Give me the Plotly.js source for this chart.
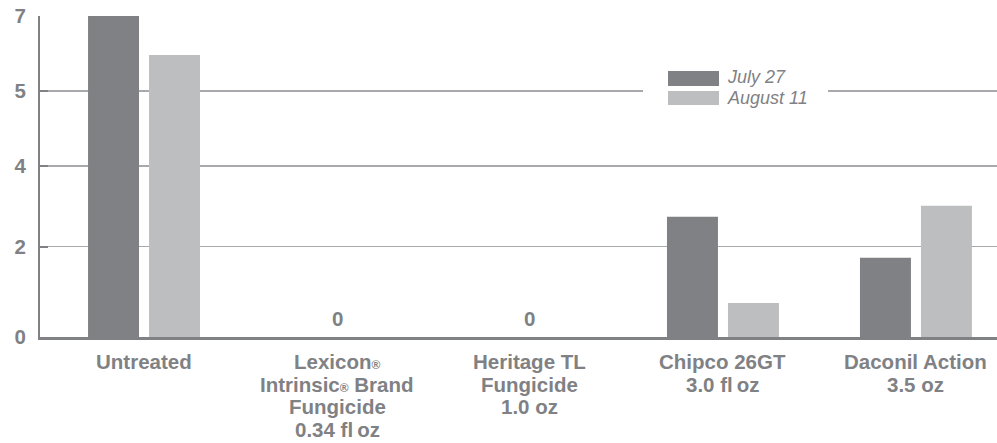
<!DOCTYPE html>
<html>
<head>
<meta charset="utf-8">
<script src="https://cdn.plot.ly/plotly-3.0.1.min.js"></script>
<style>html,body{margin:0;padding:0;background:#fff;}#chart{width:997px;height:443px;}</style>
</head>
<body>
<div id="chart"></div>
<script>
// ---- data ----
const categories = ["Untreated", "Lexicon", "Heritage", "Chipco", "Daconil"];
const categoryLabelLines = [
  ["Untreated"],
  ["Lexicon<span style=\"font-size:12px\">®</span>", "Intrinsic<span style=\"font-size:12px\">®</span> Brand", "Fungicide", "0.34 fl\u2009oz"],
  ["Heritage TL", "Fungicide", "1.0 oz"],
  ["Chipco 26GT", "3.0 fl\u2009oz"],
  ["Daconil Action", "3.5 oz"]
];
const seriesNames = ["July 27", "August 11"];
const july27 = [7.0, 0, 0, 2.62, 1.73];
const august11 = [6.15, 0, 0, 0.74, 2.86];
const yTickVals = [0, 1.97, 3.73, 5.36, 7];
const yTickText = ["0", "2", "4", "5", "7"];

// ---- style ----
const darkGrey = "#808184";
const lightGrey = "#bcbec0";
const gridGrey = "#a7a9ac";
const textGrey = "#808184";
const W = 997, H = 443;
const M = {l: 40, r: 0, t: 16, b: 106};
const px2x = p => (p - M.l) / (W - M.l - M.r);
const px2y = p => (H - M.b - p) / (H - M.t - M.b);
const labelFont = {family: "Liberation Sans, Arial, sans-serif", size: 20.5, color: textGrey, weight: "bold"};

const traces = [
  {type: "bar", x: categories, y: july27, name: seriesNames[0], marker: {color: darkGrey}, showlegend: false, hoverinfo: "none"},
  {type: "bar", x: categories, y: august11, name: seriesNames[1], marker: {color: lightGrey}, showlegend: false, hoverinfo: "none"}
];

const annotations = [];
categoryLabelLines.forEach((lines, i) => {
  lines.forEach((t, j) => {
    annotations.push({
      x: categories[i], y: 0, xref: "x", yref: "y",
      text: t, showarrow: false, xanchor: "center", yanchor: "top",
      yshift: -11 - j * 22.7,
      font: labelFont
    });
  });
});
// zero-value labels
categories.forEach((c, i) => {
  if (july27[i] === 0 && august11[i] === 0) {
    annotations.push({
      x: c, y: 0, xref: "x", yref: "y", text: "0", showarrow: false,
      xanchor: "center", yanchor: "bottom", yshift: 5,
      font: labelFont
    });
  }
});

// legend (custom, wide swatches)
const shapes = [
  {type: "rect", xref: "paper", yref: "paper", x0: px2x(643), x1: px2x(828), y0: px2y(112), y1: px2y(62),
   fillcolor: "#ffffff", line: {width: 0}, layer: "above"},
  {type: "rect", xref: "paper", yref: "paper", x0: px2x(668), x1: px2x(719), y0: px2y(86), y1: px2y(71),
   fillcolor: darkGrey, line: {width: 0}, layer: "above"},
  {type: "rect", xref: "paper", yref: "paper", x0: px2x(668), x1: px2x(719), y0: px2y(105), y1: px2y(91),
   fillcolor: lightGrey, line: {width: 0}, layer: "above"}
];
[[seriesNames[0], 77], [seriesNames[1], 98]].forEach(([t, py]) => {
  annotations.push({
    xref: "paper", yref: "paper", x: px2x(725), y: px2y(py), text: t, showarrow: false,
    xanchor: "left", yanchor: "middle",
    font: {family: "Liberation Sans, Arial, sans-serif", size: 18, color: textGrey, style: "italic"}
  });
});

const layout = {
  width: W, height: H,
  margin: M,
  paper_bgcolor: "#ffffff", plot_bgcolor: "#ffffff",
  barmode: "group", bargap: 0.368, bargroupgap: 0.164,
  showlegend: false,
  xaxis: {
    type: "category", range: [-0.539, 4.42], showticklabels: false, ticks: "",
    showgrid: false, zeroline: false, showline: true, linecolor: darkGrey, linewidth: 3, fixedrange: true
  },
  yaxis: {
    range: [0, 7], tickmode: "array", tickvals: yTickVals, ticktext: yTickText,
    showgrid: true, gridcolor: gridGrey, gridwidth: 1.5, zeroline: false,
    showline: true, linecolor: darkGrey, linewidth: 2,
    ticks: "inside", ticklen: 8, tickwidth: 2, tickcolor: darkGrey,
    ticklabelstandoff: 8,
    tickfont: labelFont,
    fixedrange: true
  },
  annotations: annotations,
  shapes: shapes
};

Plotly.newPlot("chart", traces, layout, {displayModeBar: false, staticPlot: true});
</script>
</body>
</html>
